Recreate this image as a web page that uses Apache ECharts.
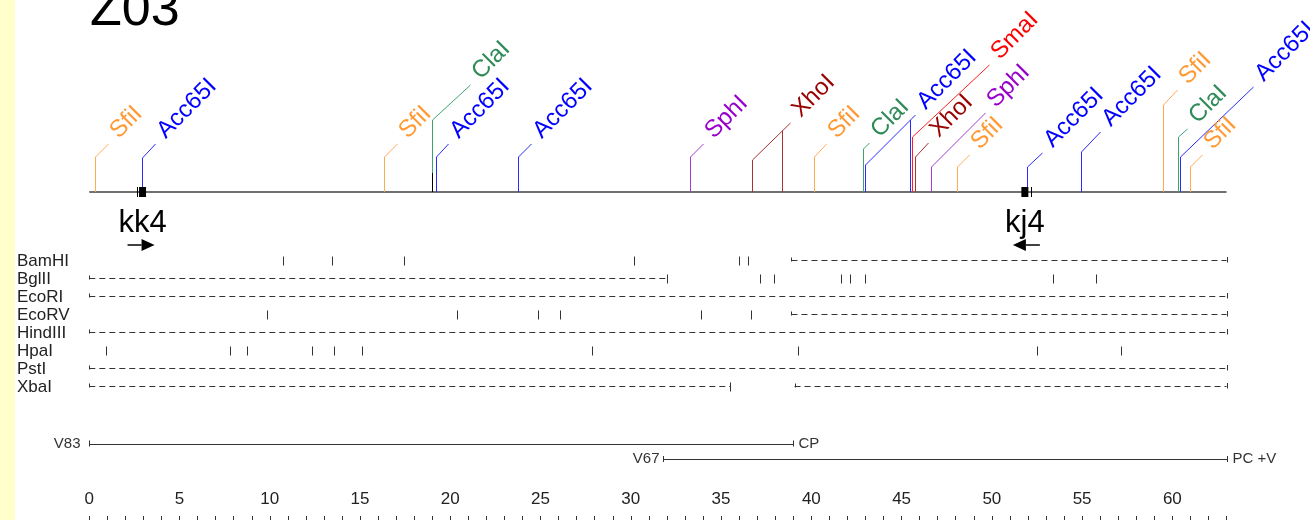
<!DOCTYPE html>
<html>
<head>
<meta charset="utf-8">
<title>Z03</title>
<script src="https://cdn.jsdelivr.net/npm/echarts@6/dist/echarts.min.js"></script>
<style>
    html, body { margin: 0; padding: 0; background: #ffffff; }
    #grafico { width: 1310px; height: 520px; }
</style>
</head>
<body>
<div id="grafico"></div>
<script>
// Título del mapa
const titulo = 'Z03';

// Sitios de corte sobre el mapa (kb)
const sitioEnzima = ['SfiI', 'Acc65I', 'SfiI', 'ClaI', 'Acc65I', 'Acc65I', 'SphI', 'XhoI', 'XhoI', 'SfiI',
    'ClaI', 'Acc65I', 'Acc65I', 'SmaI', 'XhoI', 'SphI', 'SfiI', 'Acc65I', 'Acc65I', 'SfiI', 'ClaI', 'Acc65I', 'SfiI'];
const sitioPos = [0.33, 2.9, 16.3, 19.0, 19.2, 23.75, 33.26, 36.7, 38.4, 40.15,
    42.86, 43.0, 45.45, 45.6, 45.76, 46.65, 48.07, 51.95, 54.94, 59.48, 60.3, 60.4, 61.0];

// Cebadores
const primerNombre = ['kk4', 'kj4'];
const primerPos = [2.95, 51.83];
const primerSentido = [1, -1];

// Tabla de enzimas: cortes y tramos sin datos
const filaEnzima = ['BamHI', 'BglII', 'EcoRI', 'EcoRV', 'HindIII', 'HpaI', 'PstI', 'XbaI'];
const filaCortes = [
    [10.73, 13.44, 17.45, 30.16, 35.97, 36.47],
    [32.0, 37.14, 37.91, 41.64, 42.16, 42.99, 53.37, 55.77],
    [],
    [9.84, 20.37, 24.84, 26.06, 33.9, 36.66],
    [],
    [0.94, 7.77, 8.74, 12.34, 13.54, 15.1, 27.85, 39.26, 52.5, 57.17],
    [],
    [35.5]
];
const filaSinDatos = [
    [[38.9, 63]],
    [[0, 32.0]],
    [[0, 63]],
    [[38.9, 63]],
    [[0, 63]],
    [],
    [[0, 63]],
    [[0, 35.5], [39.07, 63]]
];

// Clones
const cloneNombre = ['V83', 'V67'];
const cloneInicio = [0, 31.8];
const cloneFin = [39.0, 63.0];
const cloneExtremo = ['CP', 'PC +V'];

// Regla inferior
const reglaEtiquetas = [0, 5, 10, 15, 20, 25, 30, 35, 40, 45, 50, 55, 60];
const reglaMax = 63;

// ---- Disposición (px) y estilos ----
// [alto del tallo, dx del final de la guía, y del final de la guía] o {une: índice}
const disposicionSitio = [
    [157, 13, 144], [158, 13, 144], [157, 13, 144], [120, 38, 85], [157, 12, 144], [157, 13, 144],
    [157, 13, 144], [160, 38, 123], { une: 7 }, [157, 12, 144], [149, 6, 143], [165, 50, 115],
    { une: 11 }, [137, 77, 65], [157, 13, 143], [167, 54, 113], [167, 12, 155], [167, 15, 153],
    [152, 19, 132], [105, 14, 90], [137, 9, 129], [157, 73, 87], [167, 12, 155]
];
const colores = {
    SfiI: { texto: '#FF9933', linea: '#FFAA55' },
    Acc65I: { texto: '#0000FF', linea: '#2B2BFF' },
    ClaI: { texto: '#2E8B57', linea: '#3AA66E' },
    SphI: { texto: '#9900CC', linea: '#A33FD2' },
    XhoI: { texto: '#990000', linea: '#A83232' },
    SmaI: { texto: '#FF0000', linea: '#FF2020' }
};
const Y_MAPA = 192;
const Y_FILA0 = 259.5;
const DY_FILA = 18;
const Y_CLON = [443.5, 459];
const SEPARA_CLON = [9, 4];
const FUENTE = '"Liberation Sans", Arial, sans-serif';

const grafico = echarts.init(document.getElementById('grafico'));

function nitido(v) {
    return Math.round(v) + 0.5;
}

function linea(x1, y1, x2, y2, color, ancho, guion) {
    return {
        type: 'line',
        shape: { x1: x1, y1: y1, x2: x2, y2: y2 },
        style: { stroke: color, lineWidth: ancho || 1, lineDash: guion || null }
    };
}

// Sitios etiquetados sobre el mapa
function dibujarSitio(params, api) {
    const i = api.value(1);
    const enz = sitioEnzima[i];
    const col = colores[enz];
    const x = nitido(api.coord([api.value(0), 0])[0]);
    const yBase = api.coord([0, Y_MAPA])[1];
    const disp = disposicionSitio[i];
    const hijos = [];

    if (disp.une !== undefined) {
        // tallo vertical hasta la guía del sitio compartido
        const j = disp.une;
        const d = disposicionSitio[j];
        const xj = nitido(api.coord([sitioPos[j], 0])[0]);
        const xe = xj + d[1];
        const yTope = d[0] + (x - xj) * (d[2] - d[0]) / (xe - xj);
        hijos.push(linea(x, yBase, x, yTope, col.linea));
        return { type: 'group', children: hijos };
    }

    const xe = x + disp[1];
    hijos.push(linea(x, yBase, x, disp[0], col.linea));
    hijos.push(linea(x, disp[0], xe, disp[2], col.linea));
    if (i === 3) {
        hijos.push(linea(x, yBase, x, yBase - 19, '#000'));
    }
    hijos.push({
        type: 'text',
        x: xe + 14,
        y: disp[2] - 1,
        rotation: Math.PI / 4,
        style: {
            text: enz,
            fill: col.texto,
            font: '24px ' + FUENTE,
            align: 'left',
            verticalAlign: 'bottom'
        }
    });
    return { type: 'group', children: hijos };
}

function dibujarMapa(params, api) {
    const p1 = api.coord([api.value(0), Y_MAPA]);
    const p2 = api.coord([api.value(1), Y_MAPA]);
    return linea(p1[0], p1[1], p2[0], p2[1], '#404040', 1.6);
}

function dibujarPrimer(params, api) {
    const i = api.value(1);
    const s = primerSentido[i];
    const x = api.coord([api.value(0), 0])[0];
    const y = Y_MAPA;
    const yf = 245;
    const punta = x + s * 12;
    const baseCabeza = punta - s * 13;
    const cola = x - s * 15;
    return {
        type: 'group',
        children: [
            { type: 'rect', shape: { x: x - 3.5, y: y - 5, width: 7, height: 10 }, style: { fill: '#000' } },
            linea(nitido(x - s * 6), y - 5, nitido(x - s * 6), y + 5, '#000'),
            {
                type: 'text', x: x, y: 239,
                style: { text: primerNombre[i], fill: '#000', font: '31px ' + FUENTE, align: 'center', verticalAlign: 'bottom' }
            },
            linea(cola, yf, baseCabeza, yf, '#000', 1.5),
            { type: 'polygon', shape: { points: [[punta, yf], [baseCabeza, yf - 6], [baseCabeza, yf + 6]] }, style: { fill: '#000' } }
        ]
    };
}

function dibujarFila(params, api) {
    const i = api.value(1);
    const y = Y_FILA0 + DY_FILA * i;
    const hijos = [{
        type: 'text', x: 17, y: y + 2,
        style: { text: filaEnzima[i], fill: '#222', font: '17px ' + FUENTE, align: 'left', verticalAlign: 'middle' }
    }];
    filaSinDatos[i].forEach(function (tramo) {
        const xa = api.coord([tramo[0], 0])[0];
        const xb = api.coord([tramo[1], 0])[0];
        hijos.push(linea(xa, nitido(y), xb, nitido(y), '#333', 1, [6, 4]));
        hijos.push(linea(nitido(xa), y - 2, nitido(xa), y + 2, '#333'));
        hijos.push(linea(nitido(xb), y - 2.5, nitido(xb), y + 3, '#333'));
    });
    filaCortes[i].forEach(function (c) {
        const xc = nitido(api.coord([c, 0])[0]);
        hijos.push(linea(xc, y - 3, xc, y + 6, '#333'));
    });
    return { type: 'group', children: hijos };
}

function dibujarClon(params, api) {
    const i = api.value(2);
    const y = Y_CLON[i];
    const xa = nitido(api.coord([api.value(0), 0])[0]);
    const xb = nitido(api.coord([api.value(1), 0])[0]);
    const fuente = '15px ' + FUENTE;
    return {
        type: 'group',
        children: [
            linea(xa, nitido(y), xb, nitido(y), '#333', 1.2),
            linea(xa, y - 3, xa, y + 3, '#333'),
            linea(xb, y - 3, xb, y + 3, '#333'),
            { type: 'text', x: xa - SEPARA_CLON[i], y: y, style: { text: cloneNombre[i], fill: '#333', font: fuente, align: 'right', verticalAlign: 'middle' } },
            { type: 'text', x: xb + 5, y: y, style: { text: cloneExtremo[i], fill: '#333', font: fuente, align: 'left', verticalAlign: 'middle' } }
        ]
    };
}

const ejeBase = {
    type: 'value',
    min: 0,
    max: reglaMax,
    position: 'bottom',
    axisLine: { show: false },
    splitLine: { show: false }
};

grafico.setOption({
    animation: false,
    backgroundColor: '#ffffff',
    graphic: [
        { type: 'rect', left: 0, top: 0, shape: { width: 15, height: 520 }, style: { fill: '#FFFFCC' }, silent: true },
        { type: 'text', x: 90, y: 37, style: { text: titulo, fill: '#000', font: '52px ' + FUENTE, verticalAlign: 'bottom' }, silent: true }
    ],
    grid: { left: 89.3, right: 83.5, top: 0, bottom: 0, containLabel: false },
    xAxis: [
        Object.assign({}, ejeBase, {
            axisTick: { show: true, inside: true, length: 9, customValues: reglaEtiquetas, lineStyle: { color: '#333' } },
            axisLabel: { inside: true, margin: 12, customValues: reglaEtiquetas, color: '#222', fontSize: 17, fontFamily: FUENTE }
        }),
        Object.assign({}, ejeBase, {
            interval: 1,
            axisTick: { show: true, inside: true, length: 4, lineStyle: { color: '#333' } },
            axisLabel: { show: false }
        })
    ],
    yAxis: { type: 'value', min: 0, max: 520, inverse: true, show: false },
    series: [
        { type: 'custom', name: 'mapa', silent: true, renderItem: dibujarMapa, data: [[0, reglaMax]] },
        { type: 'custom', name: 'sitios', silent: true, renderItem: dibujarSitio, data: sitioPos.map((p, i) => [p, i]) },
        { type: 'custom', name: 'cebadores', silent: true, renderItem: dibujarPrimer, data: primerPos.map((p, i) => [p, i]) },
        { type: 'custom', name: 'enzimas', silent: true, renderItem: dibujarFila, data: filaEnzima.map((n, i) => [0, i]) },
        { type: 'custom', name: 'clones', silent: true, renderItem: dibujarClon, data: cloneNombre.map((n, i) => [cloneInicio[i], cloneFin[i], i]) }
    ]
});
</script>
</body>
</html>
